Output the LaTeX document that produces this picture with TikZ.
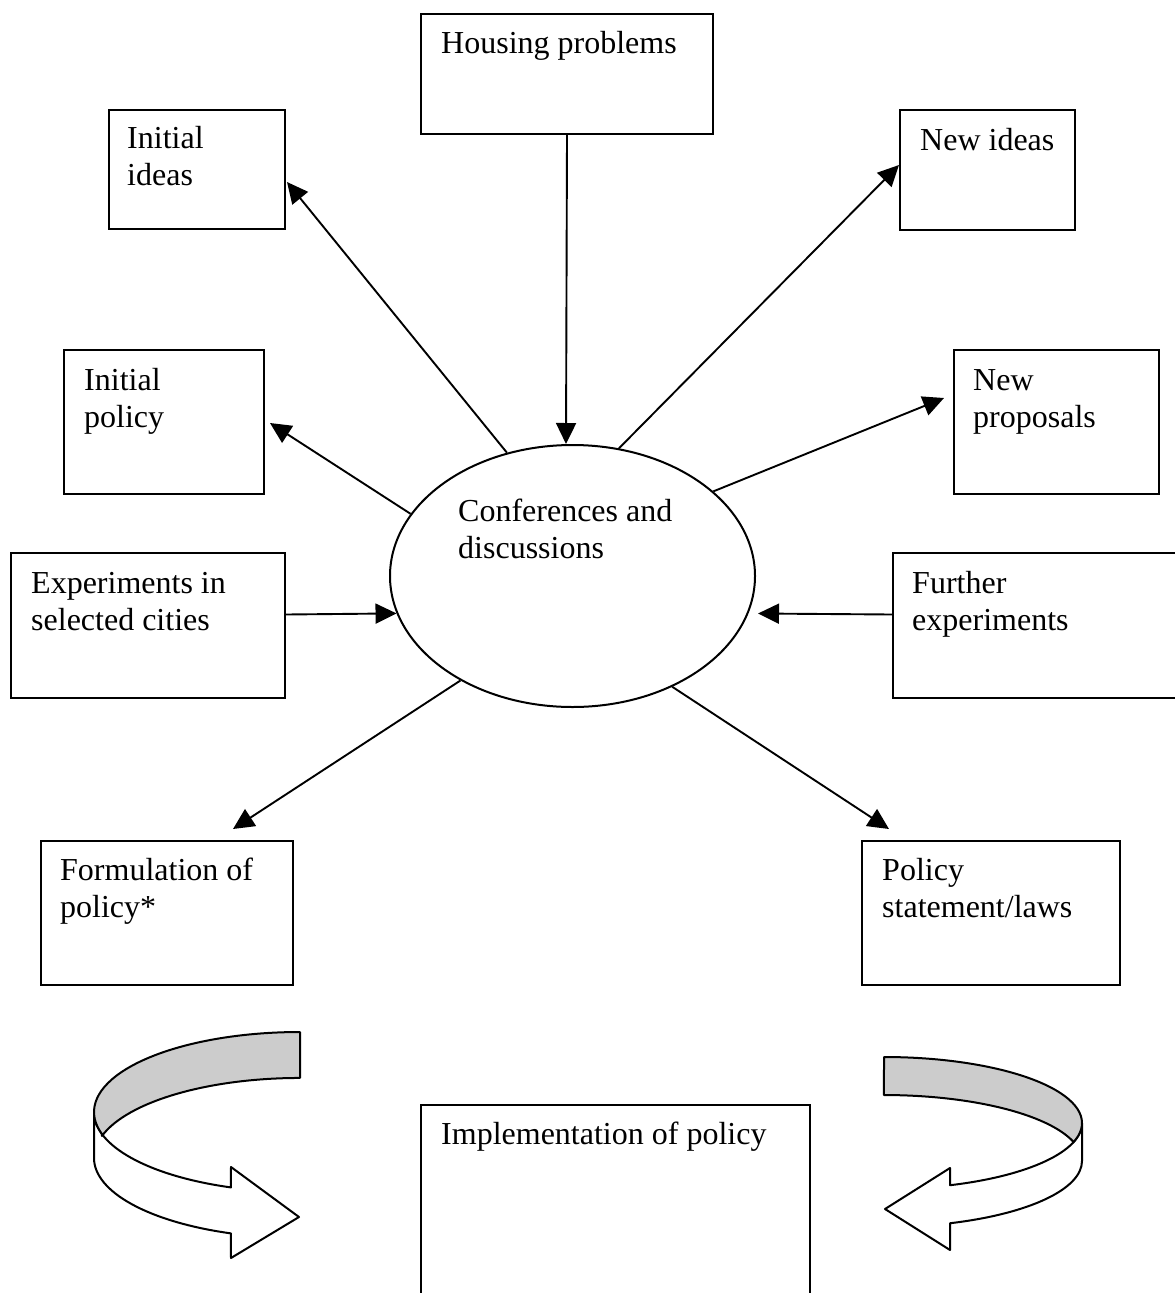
\documentclass[tikz,border=0pt]{standalone}
\usepackage{fontspec}
\setmainfont{Liberation Serif}
\usetikzlibrary{shapes.geometric,arrows.meta,calc}
\begin{document}
\begin{tikzpicture}[x=1pt,y=-1pt,
  box/.style={draw, line width=2pt, anchor=north west, inner sep=0pt},
  lbl/.style={anchor=base west, align=left, inner sep=0pt, font=\fontsize{32}{37}\selectfont},
  arr/.style={line width=1.9pt, -{Triangle[length=21pt,width=20pt]}},
  ribbon/.style={line width=2pt, line join=round}]
\useasboundingbox (0,0) rectangle (1175,1293);
\fill[white] (0,0) rectangle (1175,1293);
\clip (0,0) rectangle (1175,1293);

% boxes
\node[box, minimum width=292pt, minimum height=120pt] (hp) at (420,13) {};
\node[box, minimum width=176pt, minimum height=119pt] (ii) at (108,109) {};
\node[box, minimum width=175pt, minimum height=120pt] (ni) at (899,109) {};
\node[box, minimum width=200pt, minimum height=144pt] (ip) at (63,349) {};
\node[box, minimum width=205pt, minimum height=144pt] (np) at (953,349) {};
\node[box, minimum width=274pt, minimum height=145pt] (ex) at (10,552) {};
\node[box, minimum width=300pt, minimum height=145pt] (fe) at (892,552) {};
\node[box, minimum width=252pt, minimum height=144pt] (fp) at (40,840) {};
\node[box, minimum width=258pt, minimum height=144pt] (ps) at (861,840) {};
\node[box, minimum width=389pt, minimum height=220pt] (im) at (420,1104) {};
\node[draw, ellipse, line width=2pt, inner sep=0pt, minimum width=365pt, minimum height=262pt] (conf) at (572.5,576) {};

% labels (base anchor = baseline of the last line)
\node[lbl] (hpT) at (441,53) {Housing problems};
\node[lbl] (iiT) at (127,185) {Initial\\ideas};
\node[lbl] (niT) at (920,150) {New ideas};
\node[lbl] (ipT) at (84,427) {Initial\\policy};
\node[lbl] (npT) at (973,427) {New\\proposals};
\node[lbl] (exT) at (31,630) {Experiments in\\selected cities};
\node[lbl] (feT) at (912,630) {Further\\experiments};
\node[lbl] (confT) at (458,558) {Conferences and\\discussions};
\node[lbl] (fpT) at (60,917) {Formulation of\\policy*};
\node[lbl] (psT) at (882,917) {Policy\\statement/laws};
\node[lbl] (imT) at (441,1144) {Implementation of policy};

% connectors
\draw[arr] (hp.south) -- ([xshift=-6.5pt]conf.north);
\draw[arr] (conf.118.3) -- ([xshift=1pt,yshift=-12.5pt]ii.east);
\draw[arr] (conf.70.7) -- ([yshift=5pt]ni.west);
\draw[arr] (conf.159.7) -- ([xshift=5pt,yshift=-1pt]ip.east);
\draw[arr] (conf.31.4) -- ([xshift=-9pt,yshift=24pt]np.west);
\draw[arr] ([yshift=11pt]ex.east) -- (conf.192.2);
\draw[arr] ([yshift=11pt]fe.west) -- ([xshift=2pt,yshift=-37.5pt]conf.east);
\draw[arr] (conf.223.6) -- ([xshift=66pt,yshift=11pt]fp.north);
\draw[arr] (conf.312.1) -- ([xshift=-102pt,yshift=11pt]ps.north);

% left curved ribbon arrow
\filldraw[ribbon, fill=white] (94,1112) -- (94,1158)
  arc[start angle=180, end angle=109.6, x radius=206, y radius=80]
  -- (231,1258) -- (299,1217) -- (231,1167) -- (230.9,1187.4)
  arc[start angle=109.6, end angle=180, x radius=206, y radius=80] -- cycle;
\filldraw[ribbon, fill=gray!40] (300,1032)
  arc[start angle=270, end angle=164, x radius=206, y radius=80]
  -- (102,1135.9)
  arc[start angle=196, end angle=270, x radius=206, y radius=80] -- cycle;

% right curved ribbon arrow
\filldraw[ribbon, fill=white] (1082,1123) -- (1082,1161)
  arc[start angle=0, end angle=70.5, x radius=198, y radius=66]
  -- (950,1250) -- (885,1209) -- (950,1168) -- (950.1,1185.2)
  arc[start angle=70.5, end angle=0, x radius=198, y radius=66] -- cycle;
\filldraw[ribbon, fill=gray!40] (884,1057)
  arc[start angle=270, end angle=377.3, x radius=198, y radius=66]
  -- (1073,1141.4)
  arc[start angle=-17.3, end angle=-90, x radius=198, y radius=66] -- cycle;
\end{tikzpicture}
\end{document}
